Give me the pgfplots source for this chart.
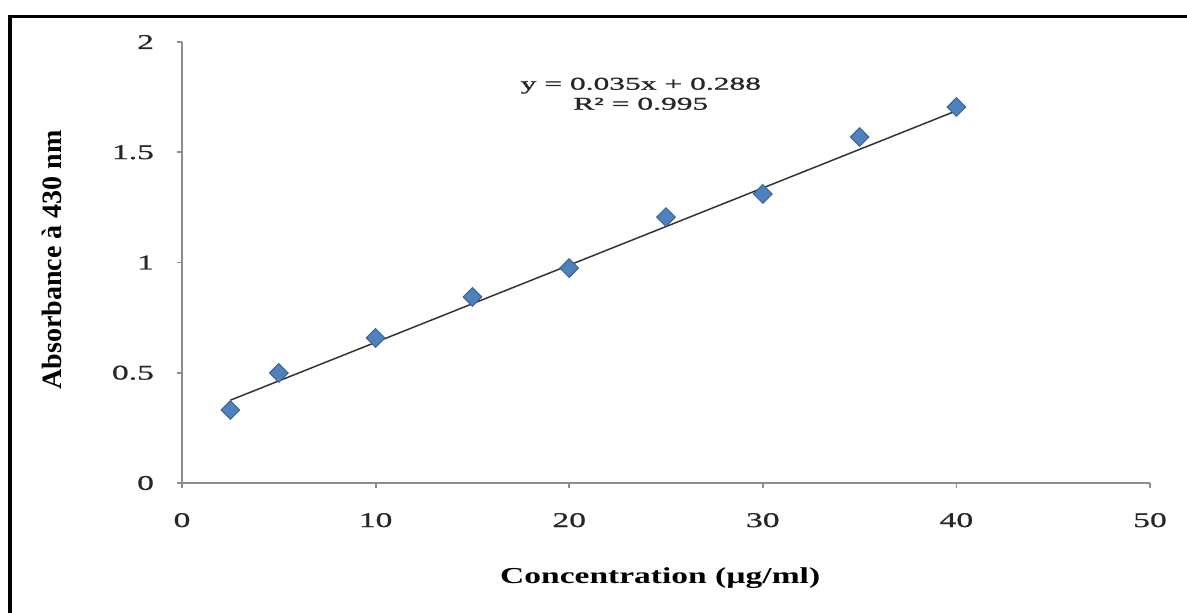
\documentclass[border=0pt]{standalone}
\usepackage{fontspec}
\setmainfont{Liberation Serif}
\newfontfamily\tfont{Liberation Serif}[FakeStretch=1.6, FakeBold=0.8]
\newfontfamily\lfont{Liberation Serif}[FakeStretch=1.47]
\newfontfamily\efont{Liberation Serif}[FakeStretch=1.75, FakeBold=1.2]
\usepackage{pgfplots}
\pgfplotsset{compat=1.18}
\definecolor{mk}{HTML}{4F81BD}
\definecolor{mkd}{HTML}{3A6496}
\definecolor{ax}{HTML}{8C8C8C}
\begin{document}
\begin{tikzpicture}
\useasboundingbox (0,0) rectangle (593.5pt,306pt);
\begin{axis}[
  at={(91pt,64.5pt)}, anchor=south west,
  scale only axis, width=484pt, height=220.5pt,
  xmin=0, xmax=50, ymin=0, ymax=2,
  axis lines=left,
  axis line style={-, draw=ax, line width=0.9pt},
  xtick={0,10,20,30,40,50},
  ytick={0,0.5,1,1.5,2},
  tick align=outside, major tick length=2.5pt,
  tick style={draw=ax, line width=0.9pt},
  /pgf/number format/assume math mode=true,
  ticklabel style={font=\tfont\fontsize{10.5}{12}\selectfont, text=black!85},
  xticklabel style={yshift=-9pt},
  yticklabel style={xshift=-8pt},
  xlabel={\lfont\bfseries Concentration (µg/ml)},
  xlabel style={font=\fontsize{11.4}{13}\selectfont, at={(axis description cs:0.494,-0.2154)}, anchor=center},
  ylabel={\bfseries Absorbance à 430 nm},
  ylabel style={font=\fontsize{14}{16}\selectfont, at={(axis description cs:-0.134,0.506)}, anchor=center},
  clip=false,
]
\addplot[black!80, line width=0.75pt] coordinates {(2.5,0.3755) (40,1.688)};
\addplot[only marks, mark=square*, mark size=3.3pt, mark options={rotate=45, fill=mk, draw=mkd, line width=0.5pt}]
  coordinates {
  (2.5,0.331) (5,0.499) (10,0.658) (15,0.844) (20,0.975)
  (25,1.206) (30,1.311) (35,1.569) (40,1.705)
  };
\node[font=\efont\fontsize{9}{10}\selectfont, align=center, text=black!85] at (axis cs:23.7,1.765) {y = 0.035x + 0.288\\R² = 0.995};
\end{axis}
\draw[line width=1.75pt] (5pt,-2pt) -- (5pt,297.75pt) -- (596pt,297.75pt);
\end{tikzpicture}
\end{document}
